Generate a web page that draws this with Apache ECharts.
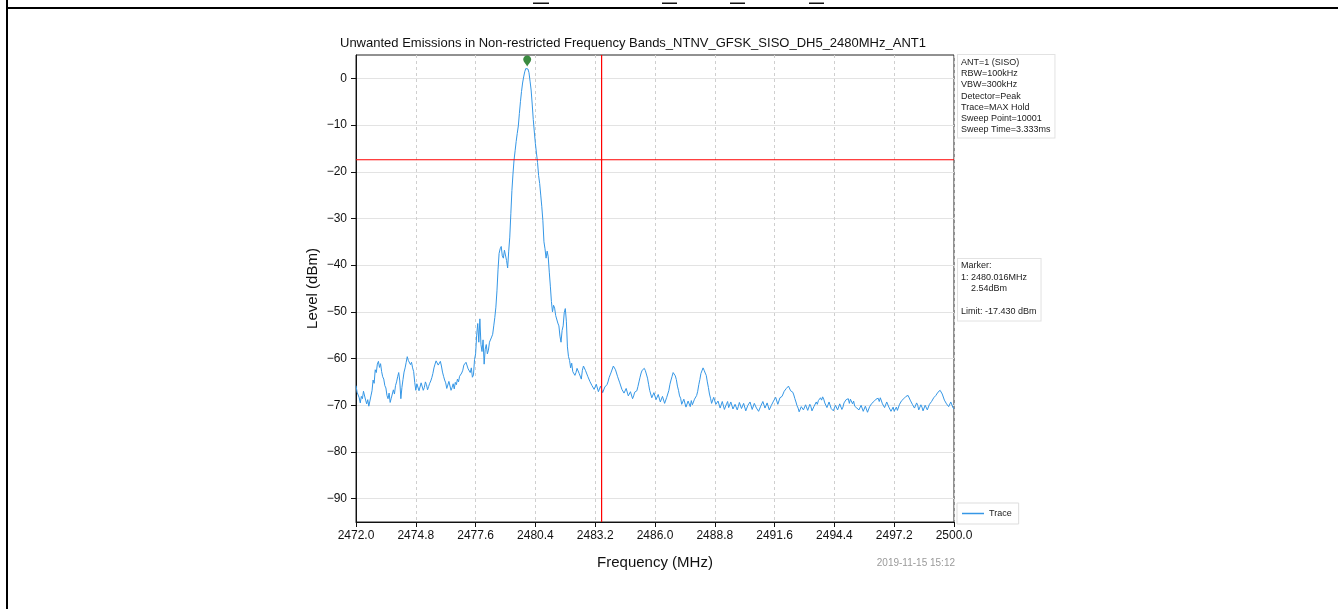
<!DOCTYPE html>
<html>
<head>
<meta charset="utf-8">
<script src="https://cdn.jsdelivr.net/npm/echarts@6/dist/echarts.min.js"></script>
<style>
  html, body { margin: 0; padding: 0; background: #fff; }
  #chart { width: 1338px; height: 609px; }
</style>
</head>
<body>
<div id="chart"></div>
<script>
// sweep grid: 2472.00 .. 2500.00 MHz, one level per 0.05 MHz (20 per row)
var freqStart = 2472.0;
var freqStep = 0.05;
var traceLevel = [
  -65.8,-67.2,-66.9,-68.4,-69.5,-68.1,-68.6,-67.0,-66.8,-68.9,-69.7,-68.8,-70.2,-69.1,-68.0,-66.9,-64.6,-65.3,-62.4,-63.0,
  -61.2,-60.6,-61.9,-61.1,-62.8,-63.9,-64.4,-65.8,-66.3,-67.9,-68.6,-67.4,-69.4,-68.5,-68.1,-66.7,-67.6,-65.8,-65.0,-63.9,
  -63.0,-64.8,-68.6,-66.2,-64.5,-62.9,-62.0,-60.8,-59.6,-60.4,-60.2,-61.3,-60.8,-62.0,-62.8,-65.1,-66.8,-65.4,-65.8,-66.9,
  -66.6,-65.2,-65.4,-66.8,-66.2,-65.0,-65.6,-66.7,-66.0,-65.3,-64.8,-64.1,-63.2,-62.0,-61.2,-60.5,-60.3,-61.4,-61.0,-60.6,
  -61.6,-62.9,-63.8,-64.6,-65.2,-66.4,-66.0,-64.9,-65.3,-66.8,-66.2,-65.4,-66.5,-65.1,-65.6,-64.4,-65.0,-63.8,-64.2,-63.1,
  -62.5,-61.4,-61.5,-60.8,-61.0,-62.2,-61.8,-63.0,-62.0,-64.0,-63.5,-60.2,-59.0,-55.0,-52.5,-56.5,-51.5,-57.0,-58.5,-56.0,
  -61.2,-58.0,-57.0,-59.0,-58.2,-56.5,-56.8,-55.4,-54.8,-53.0,-51.2,-49.0,-45.5,-41.0,-37.5,-36.5,-36.0,-38.0,-38.5,-36.8,
  -37.0,-39.0,-40.6,-37.0,-34.0,-29.0,-24.0,-20.5,-17.5,-15.5,-13.5,-11.8,-10.2,-7.5,-5.0,-2.8,-1.0,0.3,1.4,2.1,
  2.5,2.0,1.2,-0.6,-2.5,-5.5,-8.8,-11.5,-14.0,-16.0,-18.0,-20.8,-22.5,-25.0,-27.5,-30.5,-35.0,-36.5,-38.5,-37.0,
  -38.2,-41.5,-44.5,-47.8,-50.0,-48.6,-49.2,-50.8,-50.5,-52.4,-53.0,-55.2,-56.5,-54.0,-53.0,-50.2,-49.3,-52.0,-57.5,-59.6,
  -60.4,-62.0,-61.0,-62.8,-62.5,-63.6,-63.0,-62.1,-62.0,-63.2,-63.6,-64.4,-62.5,-61.6,-61.5,-62.6,-62.5,-63.8,-64.0,-64.9,
  -64.7,-65.8,-65.5,-66.6,-66.4,-65.5,-65.8,-67.1,-66.8,-65.9,-66.2,-67.3,-67.0,-66.1,-66.5,-65.6,-65.0,-64.1,-63.5,-62.9,
  -62.5,-61.6,-61.8,-62.4,-62.8,-63.9,-64.0,-65.2,-65.5,-66.6,-66.2,-67.4,-67.3,-66.4,-66.8,-68.0,-68.2,-67.1,-67.5,-68.6,
  -68.0,-67.2,-67.6,-66.9,-66.0,-65.0,-64.0,-63.1,-62.5,-62.8,-62.1,-62.6,-63.0,-64.2,-65.5,-66.8,-67.2,-68.4,-68.0,-67.3,
  -67.5,-68.8,-68.6,-67.7,-68.0,-69.3,-69.0,-68.1,-68.4,-69.6,-69.2,-68.3,-68.0,-66.8,-65.5,-64.6,-63.8,-63.0,-63.2,-63.7,
  -64.5,-65.9,-66.8,-68.0,-68.5,-69.8,-69.5,-68.7,-69.0,-70.4,-70.2,-69.1,-69.4,-70.3,-69.0,-69.9,-69.6,-68.7,-68.5,-67.9,
  -67.0,-65.6,-64.5,-63.2,-62.8,-62.0,-62.5,-63.1,-63.6,-65.0,-66.2,-67.6,-68.5,-69.6,-69.2,-68.3,-68.5,-69.8,-70.0,-69.1,
  -69.3,-70.6,-70.4,-69.2,-69.5,-70.9,-70.8,-69.7,-69.2,-70.5,-70.1,-69.3,-69.6,-70.8,-70.9,-69.8,-69.8,-71.0,-70.3,-69.4,
  -69.4,-70.7,-70.6,-69.6,-69.9,-71.2,-71.0,-70.0,-70.2,-69.3,-69.7,-70.9,-70.8,-69.6,-69.5,-70.6,-70.4,-71.3,-71.1,-70.2,
  -70.0,-69.2,-69.4,-70.6,-70.5,-69.5,-69.8,-71.0,-70.9,-70.0,-70.1,-69.1,-69.2,-68.3,-68.7,-69.8,-69.5,-68.4,-68.6,-68.1,
  -68.0,-67.0,-67.3,-66.4,-66.8,-65.9,-66.1,-66.9,-66.5,-67.2,-67.8,-68.6,-69.3,-70.1,-70.6,-71.4,-71.2,-70.3,-70.2,-71.0,
  -70.8,-69.9,-70.0,-71.1,-70.9,-69.8,-70.3,-71.2,-71.0,-70.2,-70.1,-69.3,-69.8,-69.0,-69.2,-68.4,-68.9,-68.2,-68.7,-69.5,
  -69.4,-70.5,-70.2,-69.3,-69.6,-70.7,-70.5,-71.2,-70.8,-70.0,-70.1,-71.0,-70.6,-69.7,-69.9,-70.9,-70.4,-69.5,-69.7,-68.8,
  -69.2,-68.6,-69.6,-68.7,-68.9,-69.7,-69.1,-70.2,-69.8,-70.6,-70.2,-71.0,-70.7,-70.0,-70.3,-71.3,-71.0,-70.2,-70.6,-71.5,
  -71.2,-70.3,-70.4,-69.6,-70.0,-69.2,-69.5,-68.7,-69.0,-68.5,-69.2,-68.4,-68.8,-69.7,-69.6,-70.5,-70.2,-69.3,-69.7,-70.4,
  -70.6,-71.3,-71.0,-70.4,-71.3,-71.6,-70.4,-71.1,-70.8,-69.8,-69.9,-69.0,-69.4,-68.6,-68.9,-68.1,-68.5,-67.9,-68.2,-68.9,
  -68.8,-69.8,-69.6,-70.6,-70.3,-69.5,-70.0,-71.0,-70.8,-69.9,-70.4,-71.2,-70.9,-70.0,-70.2,-71.0,-70.6,-69.8,-70.1,-69.2,
  -69.5,-68.4,-68.8,-67.9,-68.0,-67.2,-67.4,-66.8,-67.1,-67.6,-67.9,-68.9,-68.6,-69.7,-69.4,-70.3,-70.0,-69.3,-69.6,-70.5,
  -70.8
];
var freqTicks = [2472.0, 2474.8, 2477.6, 2480.4, 2483.2, 2486.0, 2488.8, 2491.6, 2494.4, 2497.2, 2500.0];
var levelTicks = [-90, -80, -70, -60, -50, -40, -30, -20, -10, 0];
var freqRange = [2472, 2500];
var levelRange = [-95, 5];
var markerPoint = [2480.016, 2.54];
var limitLevel = -17.430;
var bandEdge = 2483.5;

var settingLines = ['ANT=1 (SISO)', 'RBW=100kHz', 'VBW=300kHz', 'Detector=Peak',
                    'Trace=MAX Hold', 'Sweep Point=10001', 'Sweep Time=3.333ms'];
var markerLines = ['Marker:', '1: 2480.016MHz', '    2.54dBm', '', 'Limit: -17.430 dBm'];

var FONT = '"Liberation Sans", Arial, sans-serif';

var traceData = traceLevel.map(function (v, i) {
    return [+(freqStart + i * freqStep).toFixed(2), v];
});

var myChart = echarts.init(document.getElementById('chart'));

function minusFmt(v) {
    return v < 0 ? '\u2212' + Math.abs(v) : String(v);
}

var redLine = { color: '#ff0000', width: 1.2, type: 'solid' };

var option = {
    backgroundColor: '#fff',
    animation: false,
    textStyle: { fontFamily: FONT },
    grid: {
        left: 356, right: 384, top: 55, bottom: 87,
        show: true, borderColor: '#222', borderWidth: 1
    },
    legend: {
        data: [{ name: 'Trace', icon: 'rect' }],
        left: 957, top: 503,
        itemWidth: 22, itemHeight: 1.5,
        padding: [6, 7, 6, 5],
        backgroundColor: '#fff',
        borderColor: '#ddd', borderWidth: 1,
        textStyle: { fontSize: 9, color: '#222', fontFamily: FONT }
    },
    xAxis: {
        type: 'value',
        min: freqRange[0], max: freqRange[1],
        name: 'Frequency (MHz)',
        nameLocation: 'middle',
        nameGap: 33,
        nameTextStyle: { fontSize: 15, color: '#111', fontFamily: FONT },
        axisLine: { onZero: false, lineStyle: { color: '#111', width: 1 } },
        axisTick: { show: true, length: 5, customValues: freqTicks, lineStyle: { color: '#111' } },
        axisLabel: {
            customValues: freqTicks, color: '#111', fontSize: 12, margin: 8,
            formatter: function (v) { return v.toFixed(1); }
        },
        splitLine: { show: true, lineStyle: { color: '#cfcfcf', type: [3, 3], width: 1 } }
    },
    yAxis: {
        type: 'value',
        min: levelRange[0], max: levelRange[1],
        name: 'Level (dBm)',
        nameLocation: 'middle',
        nameGap: 36,
        nameTextStyle: { fontSize: 15, color: '#111', fontFamily: FONT },
        axisLine: { show: true, onZero: false, lineStyle: { color: '#111', width: 1 } },
        axisTick: { show: true, length: 5, customValues: levelTicks, lineStyle: { color: '#111' } },
        axisLabel: { customValues: levelTicks, color: '#111', fontSize: 12, margin: 9, formatter: minusFmt },
        splitLine: { show: true, lineStyle: { color: '#e3e3e3', width: 1 } }
    },
    series: [
        {
            name: 'Trace',
            type: 'line',
            data: traceData,
            symbol: 'none',
            color: '#3597e6',
            lineStyle: { width: 1, color: '#3597e6' },
            z: 3
        },
        {
            name: 'Limit',
            type: 'line',
            data: [[freqRange[0], limitLevel], [freqRange[1], limitLevel]],
            symbol: 'none', silent: true,
            color: '#ff0000',
            lineStyle: redLine,
            z: 4
        },
        {
            name: 'Band edge',
            type: 'line',
            data: [[bandEdge, levelRange[0]], [bandEdge, levelRange[1]]],
            symbol: 'none', silent: true,
            color: '#ff0000',
            lineStyle: redLine,
            z: 4
        },
        {
            name: 'Marker',
            type: 'scatter',
            data: [markerPoint],
            symbol: 'path://M4,0 C6.5,0 8,2 8,4.5 C8,7 5,9.5 4,12 C3,9.5 0,7 0,4.5 C0,2 1.5,0 4,0 Z',
            symbolSize: [8, 11],
            symbolOffset: [0, -5.5],
            itemStyle: { color: '#0a6e12' },
            z: 5
        }
    ],
    graphic: [
        // page frame from the surrounding document
        { type: 'rect', shape: { x: 6, y: 0, width: 2, height: 609 }, style: { fill: '#000' } },
        { type: 'rect', shape: { x: 6, y: 7, width: 1332, height: 2 }, style: { fill: '#000' } },
        { type: 'rect', shape: { x: 533, y: 2.5, width: 16, height: 1.5 }, style: { fill: '#111' } },
        { type: 'rect', shape: { x: 662, y: 2.5, width: 15, height: 1.5 }, style: { fill: '#111' } },
        { type: 'rect', shape: { x: 730, y: 2.5, width: 15, height: 1.5 }, style: { fill: '#111' } },
        { type: 'rect', shape: { x: 809, y: 2.5, width: 15, height: 1.5 }, style: { fill: '#111' } },
        {
            type: 'text', left: 655 - 315, top: 37,
            style: {
                text: 'Unwanted Emissions in Non-restricted Frequency Bands_NTNV_GFSK_SISO_DH5_2480MHz_ANT1',
                font: '13px ' + FONT, fill: '#111', width: 630, align: 'center'
            }
        },
        {
            type: 'text', left: 957, top: 54,
            style: {
                text: settingLines.join('\n'),
                font: '9px ' + FONT, fill: '#222', lineHeight: 11.2,
                backgroundColor: '#fff', borderColor: '#e2e2e2', borderWidth: 1,
                padding: [2, 4, 2, 3]
            }
        },
        {
            type: 'text', left: 957, top: 258,
            style: {
                text: markerLines.join('\n'),
                font: '9px ' + FONT, fill: '#222', lineHeight: 11.5,
                backgroundColor: '#fff', borderColor: '#e2e2e2', borderWidth: 1,
                padding: [1, 4, 3, 3]
            }
        },
        {
            type: 'text', right: 1338 - 955, top: 558,
            style: { text: '2019-11-15 15:12', font: '10px ' + FONT, fill: '#9a9a9a' }
        }
    ]
};

myChart.setOption(option);
</script>
</body>
</html>
